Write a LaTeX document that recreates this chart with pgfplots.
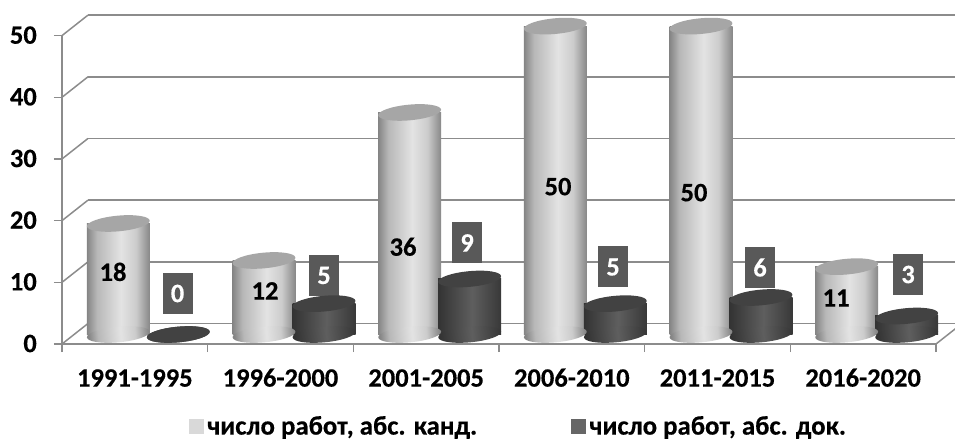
\documentclass[border=0pt]{standalone}
\usepackage{pgfplots}
\pgfplotsset{compat=1.18}
\usepackage{fontspec}
\setmainfont{Carlito}[BoldFeatures={FakeBold=0.35}]
\definecolor{axisgray}{HTML}{8C8C8C}
\definecolor{capL}{HTML}{A6A6A6}
\definecolor{capD}{HTML}{424242}
\definecolor{boxD}{HTML}{595959}
\definecolor{swL}{HTML}{D9D9D9}
\definecolor{swD}{HTML}{666666}
\pgfdeclarehorizontalshading{lightcyl}{100bp}{
  color(0bp)=(black!48); color(25bp)=(black!48); color(33bp)=(black!28);
  color(52bp)=(black!11); color(64bp)=(black!20); color(75bp)=(black!47); color(100bp)=(black!47)}
\pgfdeclarehorizontalshading{darkcyl}{100bp}{
  color(0bp)=(black!80); color(25bp)=(black!80); color(52bp)=(black!63);
  color(75bp)=(black!78); color(100bp)=(black!78)}
\newcommand{\capellipse}{\pgfpathellipse{\pgfpointorigin}{\pgfqpoint{31.4pt}{2.9pt}}{\pgfqpoint{-0.7pt}{7.8pt}}}
\pgfdeclareplotmark{topL}{\pgfsetfillcolor{capL}\capellipse\pgfusepathqfill}
\pgfdeclareplotmark{topD}{\pgfsetfillcolor{capD}\capellipse\pgfusepathqfill}
\pgfdeclareplotmark{baseL}{\capellipse\pgfshadepath{lightcyl}{5}\pgfusepath{discard}}
\pgfdeclareplotmark{baseD}{\capellipse\pgfshadepath{darkcyl}{5}\pgfusepath{discard}}
% one cylinder: category, value
\newcommand{\cylL}[2]{
  \addplot[only marks,mark=baseL,mark options={xshift=-30pt},forget plot] coordinates {(#1,0)};
  \addplot[ybar,bar width=63pt,bar shift=-30pt,draw=none,shade,shading=lightcyl,mark=none,forget plot] coordinates {(#1,#2)};
  \addplot[only marks,mark=topL,mark options={xshift=-30pt},forget plot] coordinates {(#1,#2)};
}
\newcommand{\cylD}[2]{
  \addplot[only marks,mark=baseD,mark options={xshift=30pt},forget plot] coordinates {(#1,0)};
  \addplot[ybar,bar width=63pt,bar shift=30pt,draw=none,shade,shading=darkcyl,mark=none,forget plot] coordinates {(#1,#2)};
  \addplot[only marks,mark=topD,mark options={xshift=30pt},forget plot] coordinates {(#1,#2)};
}
\newcommand{\lab}[5]{\node[font=\fontsize{26.5}{28}\selectfont\bfseries,inner sep=0pt] at (axis cs:#1,#2) [xshift=#3pt,yshift=#4pt] {#5};}
\newcommand{\boxlab}[5]{\node[font=\fontsize{26.5}{28}\selectfont\bfseries,text=white,fill=boxD,inner sep=0pt,minimum width=30pt,minimum height=41pt] at (axis cs:#1,#2) [xshift=#3pt,yshift=#4pt] {#5};}
\begin{document}
\begin{tikzpicture}[x=1pt,y=1pt]
\path[use as bounding box] (0,0) rectangle (955,439);
% back wall
\begin{axis}[
  at={(88pt,115.5pt)}, anchor=south west, scale only axis,
  width=867pt, height=308.4pt, xmin=0, xmax=1, ymin=0, ymax=50,
  axis line style={draw=none}, tick style={draw=none}, xtick=\empty, ytick={0,10,...,50}, ymajorgrids,
  grid style={axisgray,line width=1.5pt}, yticklabels={}, major tick length=0pt]
\addplot[draw=none] coordinates {(0,0) (1,50)};
\end{axis}
% front frame
\begin{axis}[
  at={(62pt,95pt)}, anchor=south west, scale only axis,
  width=874pt, height=308.4pt, xmin=-0.5, xmax=5.5, ymin=0, ymax=50,
  axis x line=bottom, axis y line=left, axis line style={axisgray,line width=1.5pt,-},
  tick style={axisgray,line width=1.2pt}, tick align=outside, major tick length=8pt,
  xtick={-0.5,0.5,...,5.5}, x tick label as interval,
  xticklabels={1991-1995,1996-2000,2001-2005,2006-2010,2011-2015,2016-2020},
  typeset ticklabels with strut,
  ytick={0,10,...,50},
  /pgf/number format/assume math mode=true,
  ticklabel style={font=\fontsize{26.5}{28}\selectfont\bfseries},
  xticklabel style={yshift=-11.5pt},
  yticklabel style={inner sep=0pt,xshift=-17pt,yshift=-2.5pt},
  clip=false]
\addplot[draw=none] coordinates {(0,0) (5,50)};
\pgfplotsinvokeforeach{0,10,20,30,40,50}{
  \draw[axisgray,line width=1.5pt] (axis cs:-0.5,#1) -- ++(26pt,20.5pt);}
\draw[axisgray,line width=1.5pt] (axis cs:5.5,0) -- ++(26pt,20.5pt);
\end{axis}
% data
\begin{axis}[
  at={(75.5pt,104.5pt)}, anchor=south west, scale only axis,
  width=874pt, height=308.4pt, xmin=-0.5, xmax=5.5, ymin=0, ymax=50,
  hide axis, clip=false,
  legend style={at={(axis description cs:0.1299,-0.297)},anchor=west,draw=none,fill=none,
    inner sep=0pt,outer sep=0pt,legend columns=2,
    font=\fontsize{26.8}{26}\selectfont\bfseries,
    /tikz/every even column/.append style={column sep=92pt},
    legend cell align=left},
  legend image code/.code={\fill[draw=none,#1] (0pt,-7.5pt) rectangle (15pt,7.5pt);\path (16pt,0pt) circle (0pt);}]
\cylL{0}{18}\cylD{0}{0}
\cylL{1}{12}\cylD{1}{5}
\cylL{2}{36}\cylD{2}{9}
\cylL{3}{50}\cylD{3}{5}
\cylL{4}{50}\cylD{4}{6}
\cylL{5}{11}\cylD{5}{3}
\addlegendimage{fill=swL}\addlegendentry{число работ, абс. канд.}
\addlegendimage{fill=swD}\addlegendentry{число работ, абс. док.}
\lab{0}{18}{-35.3}{-48.4}{18}
\lab{1}{12}{-29}{-30.4}{12}
\lab{2}{36}{-36.6}{-134.3}{36}
\lab{3}{50}{-27.3}{-160.5}{50}
\lab{4}{50}{-37}{-166.5}{50}
\lab{5}{11}{-40.6}{-31.3}{11}
\boxlab{0}{0}{29.2}{41}{0}
\boxlab{1}{5}{30}{28.2}{5}
\boxlab{2}{9}{27.4}{36.1}{9}
\boxlab{3}{5}{27.7}{36.7}{5}
\boxlab{4}{6}{29}{30}{6}
\boxlab{5}{3}{31.4}{41.5}{3}
\end{axis}
\end{tikzpicture}
\end{document}
